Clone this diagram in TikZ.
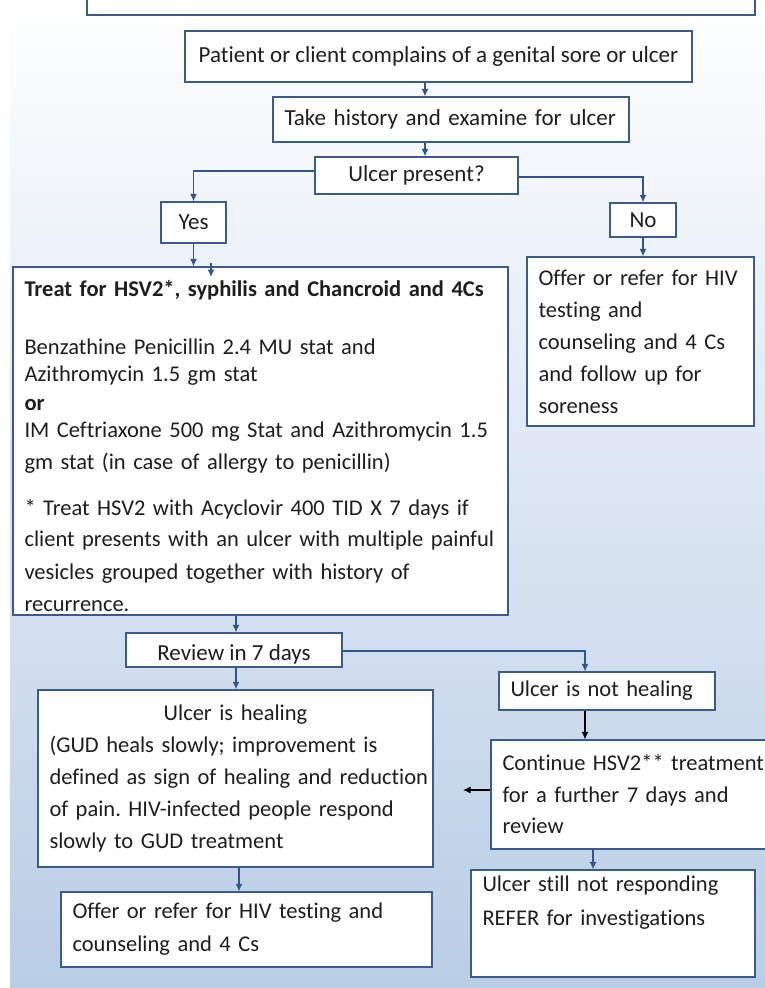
\documentclass[tikz,border=0pt]{standalone}
\usepackage{fontspec}
\setmainfont{Carlito}[Ligatures=NoCommon]
\usetikzlibrary{arrows.meta}
\definecolor{boxblue}{RGB}{56,93,138}
\definecolor{arrowblue}{RGB}{46,84,145}
\definecolor{bgblue}{RGB}{185,205,229}
\definecolor{inkgray}{RGB}{30,30,30}
\hyphenpenalty=10000
\frenchspacing
\tikzset{
  box/.style={draw=boxblue, line width=1.3pt, fill=white, inner xsep=11.5pt, inner ysep=0pt,
    text=inkgray, font=\fontsize{23}{27}\selectfont},
  textbox/.style={box, inner xsep=4pt, align=left, font=\fontsize{22.5}{#1}\selectfont,
    execute at begin node={\leftskip=7.5pt\relax}},
  textbox/.default=27,
  arr/.style={draw=arrowblue, line width=1.3pt, -{Latex[length=7.5pt,width=7pt]}},
  arrk/.style={draw=black, line width=1.1pt, -{Latex[length=7.5pt,width=7pt]}}
}
\begin{document}
\begin{tikzpicture}[x=1pt,y=-1pt]
\useasboundingbox (0,0) rectangle (765,988);
\shade[top color=white, bottom color=bgblue] (10,0) rectangle (765,987);

\coordinate (c1) at (425,0);
\coordinate (c2) at (585,0);
\coordinate (c3) at (593,0);
\coordinate (c4) at (239,0);

\node[box, minimum width=668pt, minimum height=45pt] (header) at (421,-7.5) {};
\node[box, minimum width=507pt, minimum height=51pt] (patient) at (438.5,56.5)
  {Patient or client complains of a genital sore or ulcer};
\node[box, minimum width=356pt, minimum height=45pt, text width=333pt, align=left] (history) at (451,119.5)
  {Take history and examine for ulcer};
\node[box, minimum width=203pt, minimum height=37pt] (present) at (416.5,175.5) {Ulcer present?};
\node[box, minimum width=65pt, minimum height=41pt, inner xsep=0pt] (yes) at (193.5,222.5) {Yes};
\node[box, minimum width=66pt, minimum height=34pt, inner xsep=0pt] (no) at (643,220) {No};

\node[textbox, minimum width=495pt, minimum height=348pt, text width=487pt] (treat) at (260.5,441)
  {\textbf{Treat for HSV2*, syphilis and Chancroid and 4Cs}\\[31pt]
   Benzathine Penicillin 2.4 MU stat and\\
   Azithromycin 1.5 gm stat\\[2pt]
   \textbf{or}\\
   IM Ceftriaxone 500 mg Stat and Azithromycin 1.5\\[5pt]
   gm stat (in case of allergy to penicillin)\\[19pt]
   * Treat HSV2 with Acyclovir 400 TID X 7 days if\\[4pt]
   client presents with an ulcer with multiple painful\\[6pt]
   vesicles grouped together with history of\\[5pt]
   recurrence.\\[-36pt]\mbox{}};
\node[textbox=32, minimum width=227pt, minimum height=169pt, text width=219pt] (offerR) at (640.5,341.5)
  {Offer or refer for HIV\\ testing and\\ counseling and 4 Cs\\ and follow up for\\ soreness};

\node[box, minimum width=216pt, minimum height=34pt, text height=20pt, text depth=0pt] (review) at (234,650)
  {Review in 7 days};
\node[textbox, minimum width=216pt, minimum height=38pt, text width=208pt] (notheal) at (607,691)
  {Ulcer is not healing};
\node[textbox=32, minimum width=395pt, minimum height=177pt, text width=387pt] (heal) at (235.5,778.5)
  {{\centering Ulcer is healing\par}
   (GUD heals slowly; improvement is\\
   defined as sign of healing and reduction\\
   of pain. HIV-infected people respond\\
   slowly to GUD treatment};
\node[textbox=31.5, minimum width=299pt, minimum height=109pt, text width=291pt] (cont) at (640.5,794.5)
  {Continue HSV2** treatment\\ for a further 7 days and\\ review};
\node[textbox, minimum width=284pt, minimum height=107pt, text width=276pt] (still) at (613,923.5)
  {Ulcer still not responding\\[7pt] REFER for investigations\\[19pt] \mbox{}};
\node[textbox=33, minimum width=371pt, minimum height=75pt, text width=363pt] (offerB) at (246.5,929.5)
  {Offer or refer for HIV testing and\\ counseling and 4 Cs};

\coordinate (s1) at (211,263);
\coordinate (s2) at (211,277);
\coordinate (back) at (463,790);

\draw[arr] (patient.south -| c1) -- (history.north -| c1);
\draw[arr] (history.south -| c1) -- (present.north -| c1);
\draw[arr] ([yshift=4.5pt]present.west) -| (yes.north);
\draw[arr] ([yshift=-1.5pt]present.east) -| (no.north);
\draw[arr] (yes.south) -- (yes.south |- treat.north);
\draw[arr] (s1) -- (s2);
\draw[arr] (no.south) -- (no.south |- offerR.north);
\draw[arr] ([xshift=2pt]review.north |- treat.south) -- ([xshift=2pt]review.north);
\draw[arr] ([xshift=2pt]review.south) -- ([xshift=2pt]review.south |- heal.north);
\draw[arr] ([yshift=-1pt]review.east) -| (c2 |- notheal.north);
\draw[arrk] (notheal.south -| c2) -- (cont.north -| c2);
\draw[arrk] (cont.west |- back) -- (back);
\draw[arr] (cont.south -| c3) -- (still.north -| c3);
\draw[arr] (heal.south -| c4) -- (offerB.north -| c4);
\end{tikzpicture}
\end{document}
